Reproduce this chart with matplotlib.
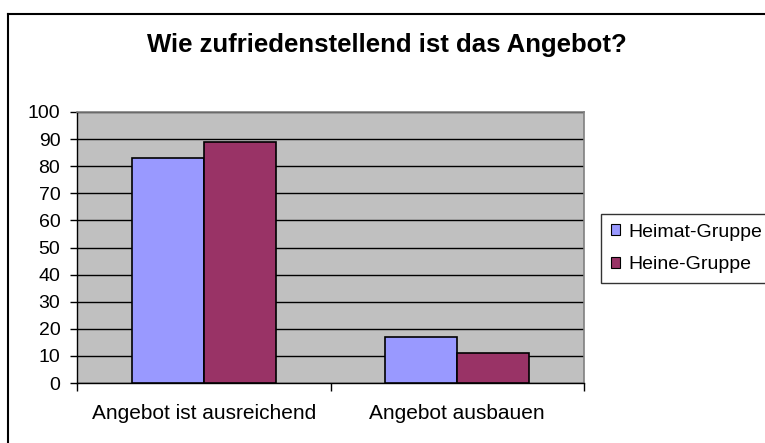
import matplotlib
matplotlib.use("Agg")
import matplotlib.pyplot as plt
from matplotlib.lines import Line2D
from matplotlib.patches import Patch
import numpy as np

categories = ["Angebot ist ausreichend", "Angebot ausbauen"]
series_names = ["Heimat-Gruppe", "Heine-Gruppe"]
heimat = [83, 17]
heine = [89, 11]
yticks = list(range(0, 101, 10))

W, H = 765, 443
fig = plt.figure(figsize=(W / 100, H / 100), dpi=100)
fig.patch.set_facecolor("white")

font = "Liberation Sans"

ax = fig.add_axes([77 / W, 1 - 383 / H, (584 - 77) / W, (383 - 112) / H])
ax.set_facecolor("#C0C0C0")

x = np.arange(len(categories))
bw = 0.284
ax.bar(x - bw / 2, heimat, width=bw, color="#9999FF", edgecolor="black", linewidth=1.2, zorder=3)
ax.bar(x + bw / 2, heine, width=bw, color="#993366", edgecolor="black", linewidth=1.2, zorder=3)

ax.set_xlim(-0.5, len(categories) - 0.5)
ax.set_ylim(0, 100)
ax.set_yticks(yticks)
ax.set_yticklabels([str(v) for v in yticks], fontfamily=font, fontsize=14)
ax.yaxis.grid(True, color="black", linewidth=1.0, zorder=1)
ax.set_axisbelow(True)

ax.set_xticks([-0.5, 0.5, 1.5])
ax.set_xticklabels([])
ax.set_xticks(x, minor=True)
ax.set_xticklabels(categories, minor=True, fontfamily=font, fontsize=15)
ax.tick_params(axis="x", which="minor", length=0, pad=15)
ax.tick_params(axis="x", which="major", length=6, width=1, direction="out")
ax.tick_params(axis="y", length=5, width=1, direction="out", pad=7)

for s in ["top", "right"]:
    ax.spines[s].set_color("#808080")
    ax.spines[s].set_linewidth(1.2)
for s in ["left", "bottom"]:
    ax.spines[s].set_color("black")
    ax.spines[s].set_linewidth(1.0)

fig.text(387 / W, 1 - 52 / H, "Wie zufriedenstellend ist das Angebot?", ha="center", va="baseline",
         fontfamily=font, fontweight="bold", fontsize=18.5)

handles = [Patch(facecolor="#9999FF", edgecolor="black", linewidth=0.8),
           Patch(facecolor="#993366", edgecolor="black", linewidth=0.8)]
leg = fig.legend(handles, series_names, loc="upper left",
                 bbox_to_anchor=(601 / W, 1 - 214 / H), borderaxespad=0,
                 prop={"family": font, "size": 14}, frameon=True, fancybox=False,
                 handlelength=0.47, handleheight=0.47, handletextpad=0.45,
                 borderpad=0.5, labelspacing=0.8)
leg.get_frame().set_edgecolor("black")
leg.get_frame().set_linewidth(1.0)

# outer chart border (cropped at right and bottom)
fig.add_artist(Line2D([8 / W, 8 / W], [0, 1 - 14 / H], transform=fig.transFigure, color="black", linewidth=1.5))
fig.add_artist(Line2D([8 / W, 1], [1 - 14 / H, 1 - 14 / H], transform=fig.transFigure, color="black", linewidth=1.5))

fig.savefig("out.png", dpi=100)
